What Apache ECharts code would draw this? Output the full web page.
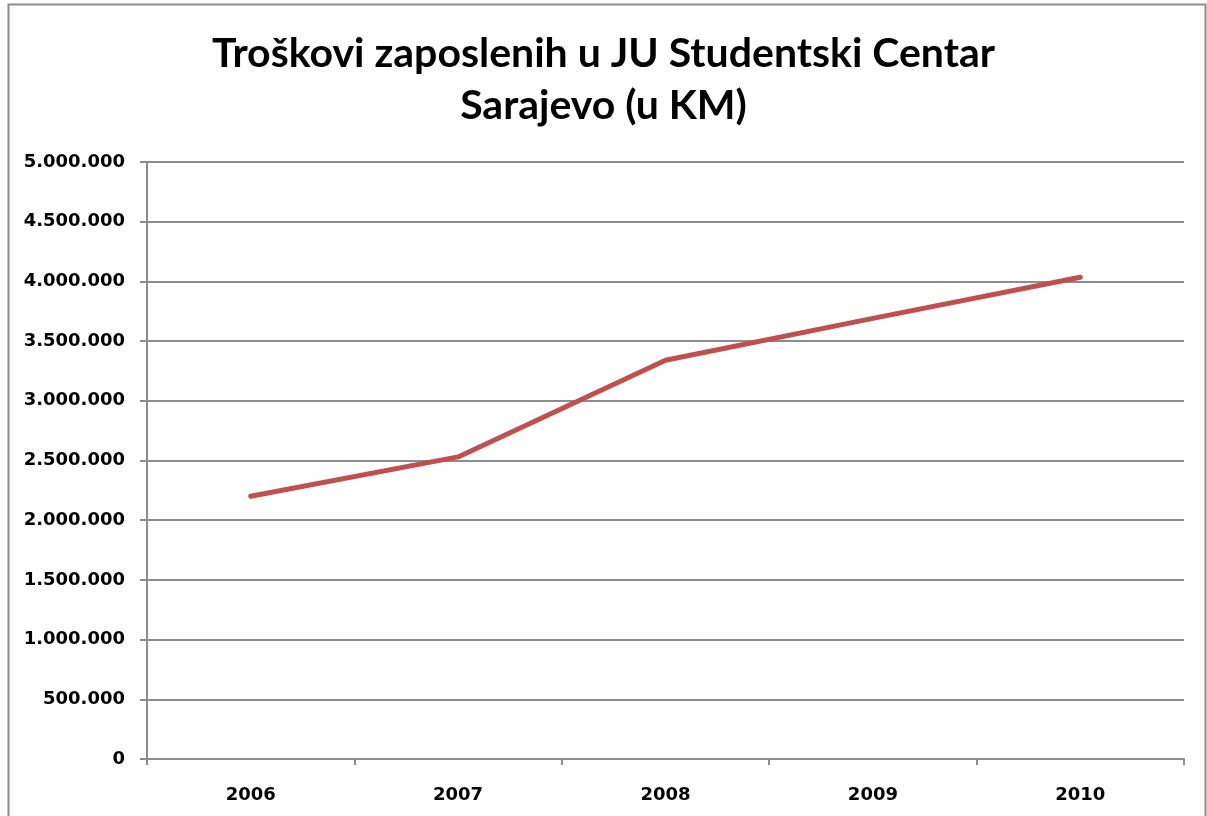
<!DOCTYPE html>
<html lang="bs">
  <head>
    <meta charset="utf-8" />
    <title>Troškovi zaposlenih</title>
    <script src="https://cdn.jsdelivr.net/npm/echarts@6/dist/echarts.min.js"></script>
    <style>
      html, body { margin: 0; padding: 0; background: #fff; }
      #chart { width: 1207px; height: 816px; }
    </style>
  </head>
  <body>
    <div id="chart"></div>
    <script>
      // chart data
      var years = ['2006', '2007', '2008', '2009', '2010'];
      var costs = [2200000, 2530000, 3340000, 3690000, 4035000];
      var titleText = 'Troškovi zaposlenih u JU Studentski Centar\nSarajevo (u KM)';

      // 5000000 -> "5.000.000"
      function fmt(v) {
        return String(v).replace(/\B(?=(\d{3})+(?!\d))/g, '.');
      }

      var chart = echarts.init(document.getElementById('chart'), null, { renderer: 'canvas' });
      var labelFont = { fontFamily: 'DejaVu Sans', fontWeight: 'bold', fontSize: 18, color: '#000' };

      chart.setOption({
        animation: false,
        backgroundColor: '#fff',
        graphic: [{
          type: 'rect',
          shape: { x: 8.5, y: 4.5, width: 1197, height: 900 },
          style: { fill: 'none', stroke: '#8c8c8c', lineWidth: 2 },
          silent: true
        }],
        title: {
          text: titleText,
          left: 'center',
          top: 23,
          textStyle: {
            fontFamily: 'Lato',
            fontWeight: 'bold',
            fontSize: 41,
            lineHeight: 52,
            color: '#000'
          }
        },
        grid: { left: 147, right: 23, top: 162, bottom: 57, containLabel: false },
        xAxis: {
          type: 'category',
          data: years,
          boundaryGap: true,
          axisLine: { lineStyle: { color: '#8c8c8c', width: 2 } },
          axisTick: { show: true, length: 6, lineStyle: { color: '#8c8c8c', width: 2 } },
          axisLabel: Object.assign({ margin: 27 }, labelFont),
          splitLine: { show: false }
        },
        yAxis: {
          type: 'value',
          min: 0,
          max: 5000000,
          interval: 500000,
          axisLine: { show: true, lineStyle: { color: '#8c8c8c', width: 2 } },
          axisTick: { show: true, length: 7, lineStyle: { color: '#8c8c8c', width: 2 } },
          axisLabel: Object.assign({ margin: 22, formatter: fmt }, labelFont),
          splitLine: { show: true, lineStyle: { color: '#8c8c8c', width: 2 } }
        },
        series: [{
          type: 'line',
          data: costs,
          symbol: 'none',
          lineStyle: { color: '#c0504d', width: 5, cap: 'round', join: 'round' },
          itemStyle: { color: '#c0504d' }
        }]
      });
    </script>
  </body>
</html>
